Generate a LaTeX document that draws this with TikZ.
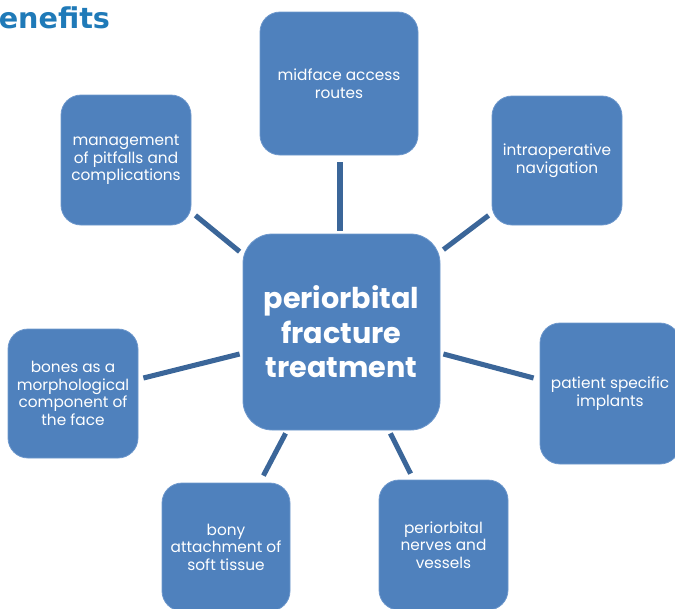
\documentclass[tikz,border=0pt]{standalone}
\usepackage{fontspec}
\setmainfont{Poppins}
\newfontfamily\titlefont{DejaVu Sans}
\usetikzlibrary{calc}
\definecolor{boxfill}{HTML}{4F81BD}
\definecolor{boxedge}{HTML}{6E98CC}
\definecolor{linkblue}{HTML}{3B6699}
\definecolor{titleblue}{HTML}{1F7AB8}
\tikzset{
  topic/.style={draw=boxedge, line width=0.6pt, fill=boxfill, rounded corners=15pt,
    text=white, align=center, font=\fontsize{11.5}{13.2}\selectfont, inner sep=2pt},
  hub/.style={topic, rounded corners=22pt, font=\bfseries\fontsize{21.5}{25.8}\selectfont},
  conn/.style={draw=linkblue, line width=3.8pt}
}
\begin{document}
\begin{tikzpicture}[x=0.75pt,y=-0.75pt]
  \useasboundingbox (0,0) rectangle (675,608);
  \begin{scope}
  \clip (0,0) rectangle (675,608);
  % heading
  \node[anchor=base west, inner sep=0pt, text=titleblue,
        font=\titlefont\bfseries\fontsize{21.5}{24}\selectfont] (title) at (-1.5,28.5) {enefits};
  % central topic
  \node[hub, minimum width=197*0.75pt, minimum height=196*0.75pt] (ctr) at (341.5,332)
    {periorbital\\fracture\\treatment};
  % surrounding topics
  \node[topic, minimum width=158*0.75pt, minimum height=143*0.75pt] (top) at (339,83.5)
    {midface access\\routes};
  \node[topic, minimum width=130*0.75pt, minimum height=129*0.75pt] (tr) at (557,160.5)
    {intraoperative\\navigation};
  \node[topic, minimum width=140*0.75pt, minimum height=141*0.75pt] (rt) at (610,393.5)
    {patient specific\\implants};
  \node[topic, minimum width=129*0.75pt, minimum height=130*0.75pt] (br) at (443.5,545)
    {periorbital\\nerves and\\vessels};
  \node[topic, minimum width=128*0.75pt, minimum height=128*0.75pt] (bt) at (226,547)
    {bony\\attachment of\\soft tissue};
  \node[topic, minimum width=130*0.75pt, minimum height=129*0.75pt] (lf) at (73,393.5)
    {bones as a\\morphological\\component of\\the face};
  \node[topic, minimum width=130*0.75pt, minimum height=130*0.75pt] (tl) at (126,160)
    {management\\of pitfalls and\\complications};
  % connectors from the hub to each topic
  \draw[conn] ($(ctr.north)+(-1.5,-3)$) -- ($(top.south)+(1,7)$);
  \draw[conn] ($(ctr.north west)+(-3,18)$) -- ($(tl.south east)+(4,-10)$);
  \draw[conn] ($(ctr.north east)+(3,16)$) -- ($(tr.south west)+(-3,-10)$);
  \draw[conn] ($(ctr.east)+(3,22)$) -- ($(rt.west)+(-6,-15.5)$);
  \draw[conn] ($(ctr.south east)+(-50,3)$) -- ($(br.north west)+(32,-6)$);
  \draw[conn] ($(ctr.south west)+(43,3)$) -- ($(bt.north east)+(-27,-7)$);
  \draw[conn] ($(ctr.west)+(-3,22)$) -- ($(lf.east)+(5,-15.5)$);
  \end{scope}
\end{tikzpicture}
\end{document}
